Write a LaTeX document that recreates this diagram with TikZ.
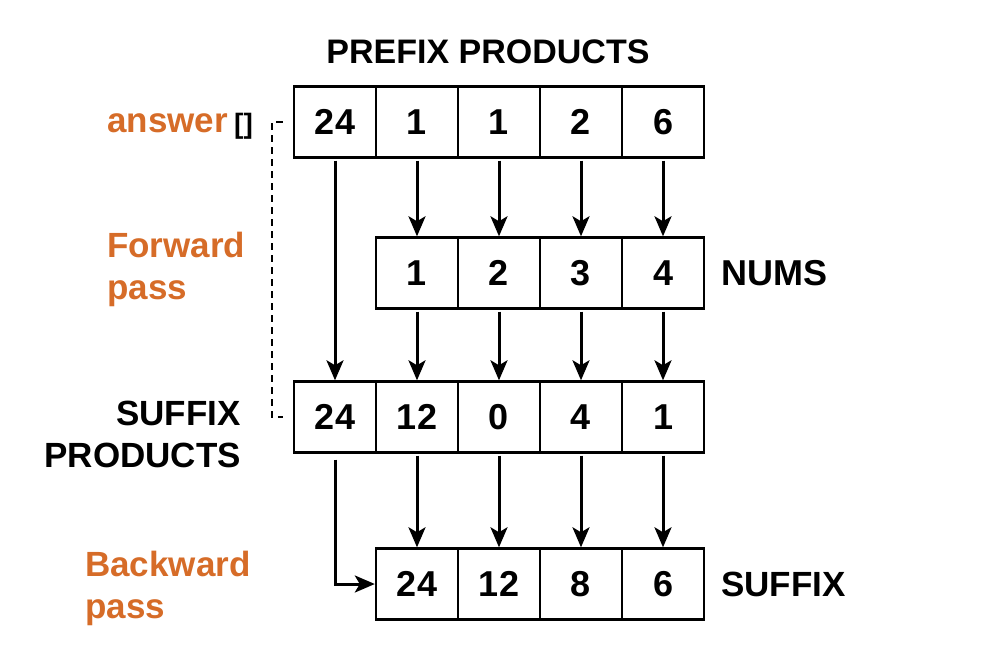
\documentclass[tikz,border=0pt]{standalone}
\usepackage{fontspec}
\setmainfont{Liberation Sans}
\usetikzlibrary{arrows.meta,calc}
\definecolor{accent}{RGB}{214,108,40}
\begin{document}
\begin{tikzpicture}[x=1pt,y=-1pt,
  cell/.style={draw,line width=2.4pt,minimum width=82pt,minimum height=71pt,inner sep=0pt,font=\fontsize{36}{40}\selectfont\bfseries},
  arr/.style={line width=3pt,-{Stealth[length=20pt,width=17pt,inset=5pt]},shorten <=2pt},
  lab/.style={font=\fontsize{35}{42}\selectfont\bfseries,inner sep=0pt},
  olab/.style={font=\fontsize{35}{42}\selectfont\bfseries,text=accent,inner sep=0pt,align=left},
  dashline/.style={line width=2.6pt,dash pattern=on 7pt off 5pt}]
\useasboundingbox (0,0) rectangle (1000,667);
% row 1 prefix
\foreach \v [count=\i] in {24,1,1,2,6}
  \node[cell] (p\i) at (253+82*\i,122) {\v};
% row 2 nums
\foreach \v [count=\i] in {1,2,3,4}
  \node[cell] (n\i) at (335+82*\i,273) {\v};
% row 3 suffix products
\foreach \v [count=\i] in {24,12,0,4,1}
  \node[cell] (s\i) at (253+82*\i,417) {\v};
% row 4 suffix
\foreach \v [count=\i] in {24,12,8,6}
  \node[cell] (q\i) at (335+82*\i,584) {\v};
% arrows
\foreach \i [evaluate=\i as \j using int(\i+1)] in {1,2,3,4} {
  \draw[arr] (p\j.south) -- (n\i.north);
  \draw[arr] (n\i.south) -- (s\j.north);
  \draw[arr] (s\j.south) -- (q\i.north);
}
\draw[arr] (p1.south) -- (s1.north);
\draw[arr,shorten <=6pt] (s1.south) |- (q1.west);
% dashed bracket
\draw[dashline,shorten <=10pt,shorten >=10pt] (p1.west) -- ++(-21,0) |- (s1.west);
% labels
\node[lab,anchor=center,font=\fontsize{34}{40}\selectfont\bfseries] (title) at (488,52) {PREFIX PRODUCTS};
\node[olab,anchor=west] (ans) at (107,123) {answer};
\node[lab,anchor=west,font=\fontsize{28}{32}\selectfont\bfseries] (br) at ($(ans.east)+(6,3)$) {[]};
\node[olab,anchor=west] (fw) at (107,269) {Forward\\pass};
\node[lab,anchor=east,align=right] (sp) at (241,434) {SUFFIX\\PRODUCTS};
\node[olab,anchor=west] (bw) at (85,588) {Backward\\pass};
\node[lab,anchor=west,font=\fontsize{36}{40}\selectfont\bfseries] (nums) at (721,273) {NUMS};
\node[lab,anchor=west] (suf) at (721,584) {SUFFIX};
\end{tikzpicture}
\end{document}
